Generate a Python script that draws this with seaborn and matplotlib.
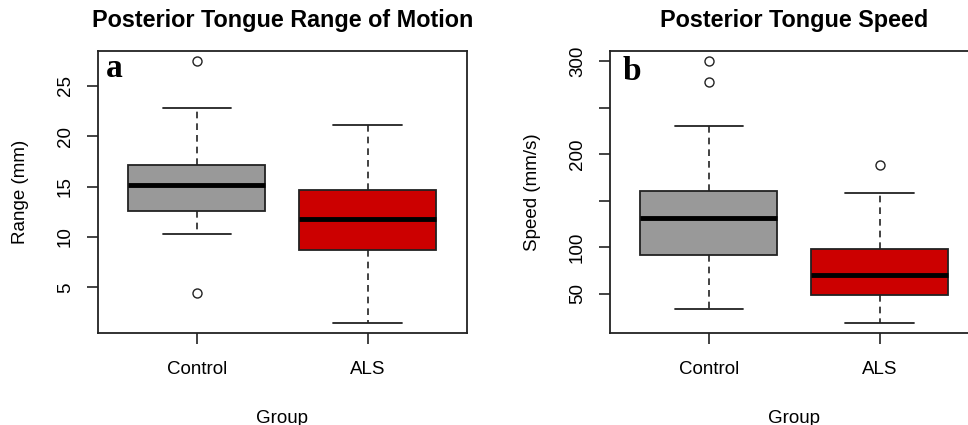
import numpy as np
import pandas as pd
import matplotlib
matplotlib.use("Agg")
import matplotlib.pyplot as plt
import seaborn as sns

# ---- data ----
groups = ["Control", "ALS"]
# five-number summaries: lower whisker, Q1, median, Q3, upper whisker
range_control = [10.26, 12.55, 15.2, 17.1, 22.8]
range_als = [1.52, 8.7, 11.8, 14.66, 21.15]
range_outliers_control = [4.4, 27.4]
range_outliers_als = []
speed_control = [33.0, 91.4, 131.0, 160.5, 230.0]
speed_als = [18.7, 48.5, 69.4, 97.8, 158.0]
speed_outliers_control = [278.0, 300.0]
speed_outliers_als = [188.0]

range_ticks = [5, 10, 15, 20, 25]
range_tick_labels = ["5", "10", "15", "20", "25"]
speed_ticks = [50, 100, 150, 200, 250, 300]
speed_tick_labels = ["50", "100", "", "200", "", "300"]

titles = ["Posterior Tongue Range of Motion", "Posterior Tongue Speed"]
ylabels = ["Range (mm)", "Speed (mm/s)"]
xlabel = "Group"
panel_letters = ["a", "b"]
colors = ["#999999", "#CC0000"]


def sample_from_summary(summary, outliers, m=20):
    lo, q1, med, q3, hi = summary
    return [lo] + [q1] * m + [med] * m + [q3] * m + [hi] + list(outliers)


def frame(ctrl, ctrl_out, als, als_out):
    rows = []
    for g, s, o in [("Control", ctrl, ctrl_out), ("ALS", als, als_out)]:
        for v in sample_from_summary(s, o):
            rows.append({"group": g, "value": v})
    return pd.DataFrame(rows)


df_range = frame(range_control, range_outliers_control, range_als, range_outliers_als)
df_speed = frame(speed_control, speed_outliers_control, speed_als, speed_outliers_als)

sns.set_theme(style="white")
plt.rcParams["font.family"] = ["Liberation Sans", "DejaVu Sans"]
plt.rcParams["text.color"] = "black"
plt.rcParams["axes.labelcolor"] = "black"

W, H = 968, 425
fig = plt.figure(figsize=(W / 100, H / 100), dpi=100)
ax1 = fig.add_axes([97.7 / W, 92 / H, 369 / W, 282 / H])
ax2 = fig.add_axes([609.7 / W, 92 / H, 369 / W, 282 / H])

edge = "#222222"

configs = [
    (ax1, df_range, (0.485, 28.435), range_ticks, range_tick_labels),
    (ax2, df_speed, (7.45, 311.25), speed_ticks, speed_tick_labels),
]

for i, (ax, df, ylim, ticks, ticklabels) in enumerate(configs):
    sns.boxplot(
        data=df, x="group", y="value", hue="group", order=groups,
        hue_order=groups, palette=colors, saturation=1, legend=False,
        width=0.8, whis=1.5, linecolor=edge, linewidth=1.3, fliersize=6.5,
        ax=ax,
        whiskerprops=dict(linestyle=(0, (4, 3)), color=edge, linewidth=1.2),
        capprops=dict(color=edge, linewidth=1.3),
        medianprops=dict(color="black", linewidth=3.5),
        flierprops=dict(marker="o", markerfacecolor="none",
                        markeredgecolor=edge, markeredgewidth=1.0),
    )
    ax.set_xlim(-0.58, 1.58)
    ax.set_ylim(*ylim)
    ax.set_yticks(ticks)
    ax.set_yticklabels(ticklabels)
    ax.set_xticks([0, 1])
    ax.set_xticklabels(groups)
    for lab in ax.get_yticklabels():
        lab.set_rotation(90)
        lab.set_va("center")
        lab.set_ha("right")
    ax.tick_params(axis="both", which="both", direction="out", length=8,
                   width=1.2, color=edge, labelsize=13.5, labelcolor="black",
                   left=True, bottom=True)
    ax.tick_params(axis="y", pad=9)
    ax.tick_params(axis="x", pad=12)
    for sp in ax.spines.values():
        sp.set_visible(True)
        sp.set_color(edge)
        sp.set_linewidth(1.3)
    ax.set_xlabel(xlabel, fontsize=13.5, labelpad=23, color="black")
    ax.set_ylabel(ylabels[i], fontsize=13.5, labelpad=20, color="black")
    ax.set_title(titles[i], fontsize=16.8, fontweight="bold", pad=17,
                 color="black")
    ax.grid(False)

ax1.text(0.022, 0.908, panel_letters[0], transform=ax1.transAxes,
         fontsize=24, fontweight="bold", family="Liberation Serif",
         va="baseline", ha="left", color="black")
ax2.text(0.036, 0.897, panel_letters[1], transform=ax2.transAxes,
         fontsize=24, fontweight="bold", family="Liberation Serif",
         va="baseline", ha="left", color="black")

fig.savefig("out.png", dpi=100, facecolor="white")
